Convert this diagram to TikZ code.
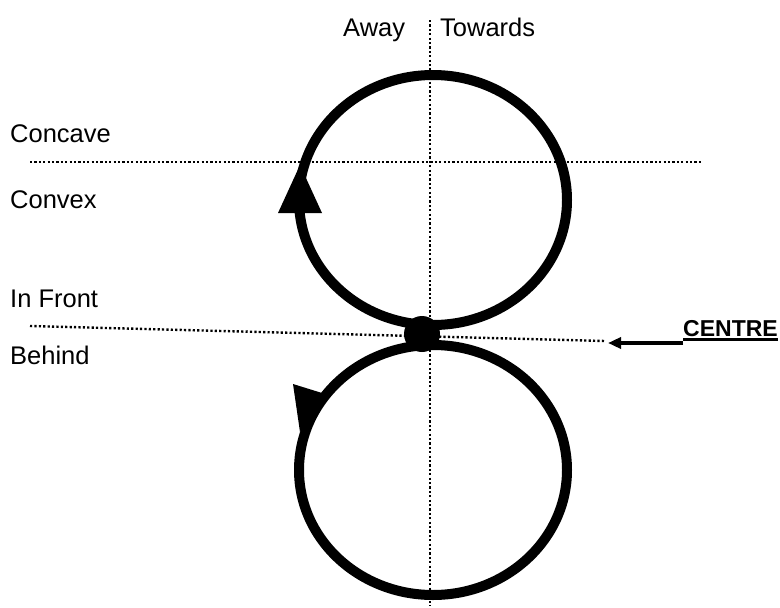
\documentclass[tikz,border=0pt]{standalone}
\usepackage{fontspec}
\setmainfont{Liberation Sans}
\usetikzlibrary{arrows.meta}
\begin{document}
\begin{tikzpicture}[x=1pt,y=-1pt,
  guide/.style={line width=2.4pt,dash pattern=on 2.2pt off 2.2pt},
  loopline/.style={line width=10pt},
  lbl/.style={anchor=base west,inner sep=0pt,font=\fontsize{25.5}{30}\selectfont},
  head/.style={fill=black}]
\useasboundingbox (0,0) rectangle (780,608);
% guide lines
\draw[guide] (430,20) -- (430,606);
\draw[guide] (30,162) -- (703,162);
\draw[guide] (30,326) -- (605,341);
% loops
\draw[loopline] (433,200) ellipse [x radius=134pt, y radius=125pt];
\draw[loopline] (433,470) ellipse [x radius=134pt, y radius=125pt];
\fill (422,334) circle (18pt);
% arrowheads
\fill[head] (278,213) -- (322,213) -- (300,165) -- cycle;
\fill[head] (293,384) -- (322,393) -- (300,432) -- cycle;
% labels
\node[lbl] (away) at (343,36) {Away};
\node[lbl] (towards) at (440,36) {Towards};
\node[lbl] (concave) at (10,142) {Concave};
\node[lbl] (convex) at (10,208) {Convex};
\node[lbl] (infront) at (10,307) {In Front};
\node[lbl] (behind) at (10,364) {Behind};
\node[lbl,font=\fontsize{23}{28}\selectfont\bfseries] (centre) at (683,336) {CENTRE};
\draw[line width=2.5pt] ([yshift=-3.5pt]centre.base west) -- ([yshift=-3.5pt]centre.base east);
\coordinate (ctip) at (608,343);
\draw[line width=4.5pt,-{Triangle[length=13pt,width=11pt]}] ([yshift=-7pt]centre.base west) -- (ctip);
\end{tikzpicture}
\end{document}
